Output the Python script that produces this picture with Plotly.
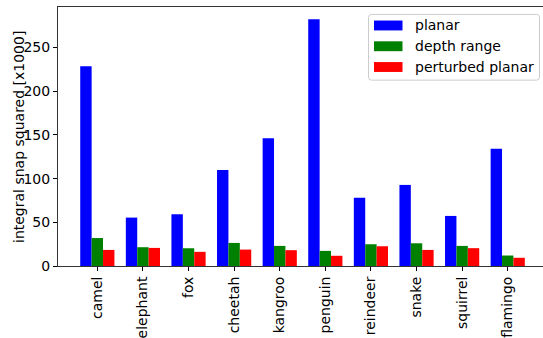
import plotly.graph_objects as go

# Per-animal integral of squared snap (values in thousands)
animals = ["camel", "elephant", "fox", "cheetah", "kangroo", "penguin",
           "reindeer", "snake", "squirrel", "flamingo"]
planar = [228.5, 55.4, 59.2, 110.0, 146.3, 282.4, 78.0, 92.8, 57.3, 134.2]
depth_range = [32.0, 21.5, 20.3, 26.4, 23.0, 17.3, 24.9, 26.0, 23.0, 12.0]
perturbed_planar = [18.4, 20.7, 16.2, 18.8, 18.1, 11.7, 22.6, 18.4, 20.4, 9.4]

series_names = ["planar", "depth range", "perturbed planar"]
series_colors = ["#0000ff", "#008000", "#ff0000"]

FONT = "DejaVu Sans"
W, H = 543, 338
L, T, B, R = 58, 7, 69, 0
PW, PH = W - L - R, H - T - B

def px(x):
    return (x - L) / PW

def py(y):
    return (H - B - y) / PH

def rounded_box(x0, y0, x1, y1, r):
    """SVG path (paper coords) of a rectangle with rounded corners, given in pixels."""
    pts = [
        f"M {px(x0 + r)},{py(y0)}",
        f"L {px(x1 - r)},{py(y0)}",
        f"Q {px(x1)},{py(y0)} {px(x1)},{py(y0 + r)}",
        f"L {px(x1)},{py(y1 - r)}",
        f"Q {px(x1)},{py(y1)} {px(x1 - r)},{py(y1)}",
        f"L {px(x0 + r)},{py(y1)}",
        f"Q {px(x0)},{py(y1)} {px(x0)},{py(y1 - r)}",
        f"L {px(x0)},{py(y0 + r)}",
        f"Q {px(x0)},{py(y0)} {px(x0 + r)},{py(y0)} Z",
    ]
    return " ".join(pts)

fig = go.Figure()
for name, vals, col in zip(series_names, [planar, depth_range, perturbed_planar], series_colors):
    fig.add_trace(go.Bar(
        x=list(range(len(animals))), y=vals, name=name,
        marker=dict(color=col, line=dict(width=0)),
        showlegend=False,
    ))

# legend box drawn as shapes + text
shapes = [dict(type="path", xref="paper", yref="paper",
               path=rounded_box(368.5, 14.5, 539.5, 81, 3),
               line=dict(color="#cccccc", width=1), fillcolor="rgba(255,255,255,0.8)",
               layer="above")]
annotations = []
for i, (name, col) in enumerate(zip(series_names, series_colors)):
    cy = 25.7 + 21 * i
    shapes.append(dict(type="rect", xref="paper", yref="paper",
                       x0=px(374), x1=px(402.5), y0=py(cy + 5), y1=py(cy - 5),
                       line=dict(width=0), fillcolor=col, layer="above"))
    annotations.append(dict(xref="paper", yref="paper", x=px(413), y=py(cy),
                            text=name, showarrow=False, xanchor="left", yanchor="middle",
                            font=dict(family=FONT, size=14, color="black")))

annotations.append(dict(xref="paper", yref="paper", x=px(19), y=py(138.5),
                        text="integral snap squared [x1000]", textangle=-90,
                        showarrow=False, xanchor="center", yanchor="middle",
                        font=dict(family=FONT, size=14, color="black")))

fig.update_layout(
    width=W, height=H,
    margin=dict(l=L, r=R, t=T, b=B, pad=0),
    paper_bgcolor="white", plot_bgcolor="white",
    barmode="group", bargap=0.25, bargroupgap=0,
    font=dict(family=FONT, size=14, color="black"),
    shapes=shapes, annotations=annotations,
    xaxis=dict(
        range=[-0.8625, -0.8625 + PW / 45.6],
        tickmode="array", tickvals=list(range(len(animals))), ticktext=animals,
        tickangle=-90, ticks="outside", ticklen=4, tickcolor="black",
        showline=True, linecolor="#333333", linewidth=1, mirror=True,
        showgrid=False, zeroline=False,
        tickfont=dict(family=FONT, size=14, color="black"),
    ),
    yaxis=dict(
        range=[0, 296.4],
        tickvals=[0, 50, 100, 150, 200, 250],
        ticks="outside", ticklen=4, tickcolor="black",
        showline=True, linecolor="#333333", linewidth=1,
        showgrid=False, zeroline=False,
        tickfont=dict(family=FONT, size=14, color="black"),
    ),
)

fig.write_html("out.html")
